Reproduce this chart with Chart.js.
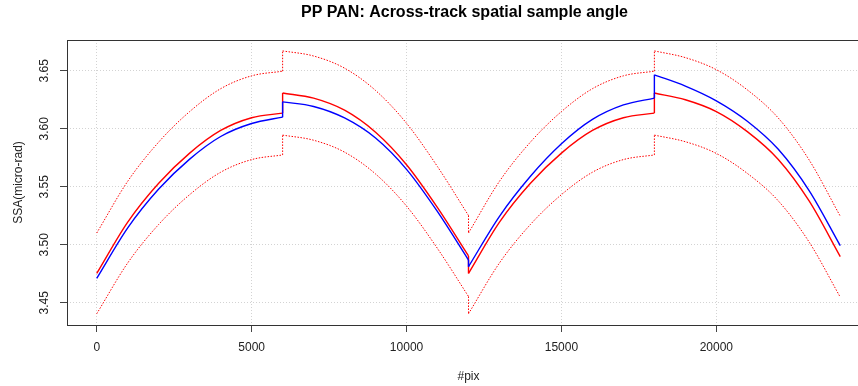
<!DOCTYPE html>
<html><head><meta charset="utf-8">
<script src="https://cdn.jsdelivr.net/npm/chart.js@4/dist/chart.umd.min.js"></script>
<style>html,body{margin:0;padding:0;overflow:hidden;background:#fff;} #wrap{width:872px;height:386px;}</style>
</head><body><div id="wrap"><canvas id="c" width="872" height="386"></canvas></div>
<script>
const titleText = 'PP PAN: Across-track spatial sample angle';
const xTitle = '#pix';
const yTitle = 'SSA(micro-rad)';
const xTicks = [0, 5000, 10000, 15000, 20000];
const yTicks = [3.45, 3.50, 3.55, 3.60, 3.65];
const yTickLabels = ['3.45', '3.50', '3.55', '3.60', '3.65'];

const pix = [0,1000,2000,3000,4000,5000,6000,
             6000,7000,8000,9000,10000,11000,12000,
             12000,13000,14000,15000,16000,17000,18000,
             18000,19000,20000,21000,22000,23000,24000];

const ssaRed = [3.4753,3.5195,3.5530,3.5790,3.5985,3.6095,3.6135,
                3.6308,3.6264,3.6160,3.5970,3.5690,3.5320,3.4903,
                3.4753,3.5195,3.5530,3.5790,3.5985,3.6095,3.6135,
                3.6308,3.6250,3.6148,3.5975,3.5735,3.5375,3.4897];

const ssaBlue = [3.4710,3.5145,3.5480,3.5738,3.5933,3.6045,3.6100,
                 3.6232,3.6192,3.6093,3.5920,3.5650,3.5285,3.4868,
                 3.4811,3.5245,3.5590,3.5870,3.6080,3.6205,3.6264,
                 3.6465,3.6368,3.6241,3.6065,3.5823,3.5465,3.4992];

const ssaUpper = [3.5101,3.5547,3.5885,3.6148,3.6345,3.6456,3.6496,
                  3.6671,3.6627,3.6522,3.6330,3.6047,3.5673,3.5252,
                  3.5101,3.5547,3.5885,3.6148,3.6345,3.6456,3.6496,
                  3.6671,3.6613,3.6509,3.6335,3.6092,3.5729,3.5246];

const ssaLower = [3.4405,3.4843,3.5175,3.5432,3.5625,3.5734,3.5774,
                  3.5945,3.5901,3.5798,3.5610,3.5333,3.4967,3.4554,
                  3.4405,3.4843,3.5175,3.5432,3.5625,3.5734,3.5774,
                  3.5945,3.5888,3.5787,3.5615,3.5378,3.5021,3.4548];

const FONT = '"Liberation Sans", Arial, Helvetica, sans-serif';

// smooth pieces between detector joins (gap where x repeats)
function pieces(arr) {
  const out = [];
  pix.forEach((x, i) => {
    if (i > 0 && x === pix[i - 1]) out.push({x: x, y: null});
    out.push({x: x, y: arr[i]});
  });
  return out;
}
// vertical steps at detector joins
function steps(arr) {
  const out = [];
  pix.forEach((x, i) => {
    if (i > 0 && x === pix[i - 1]) {
      out.push({x: pix[i - 1], y: arr[i - 1]}, {x: x, y: arr[i]}, {x: x, y: null});
    }
  });
  return out;
}

const decor = {
  id: 'decor',
  afterDraw(chart) {
    const {ctx, chartArea: a, scales: {y}} = chart;
    ctx.save();
    ctx.strokeStyle = '#333';
    ctx.lineWidth = 1;
    ctx.setLineDash([]);
    ctx.strokeRect(Math.round(a.left) + 0.5, Math.round(a.top) + 0.5,
                   Math.round(a.right - a.left), Math.round(a.bottom - a.top));
    ctx.fillStyle = '#000';
    ctx.font = 'bold 16px ' + FONT;
    ctx.textAlign = 'center';
    ctx.textBaseline = 'middle';
    ctx.fillText(titleText, (a.left + a.right) / 2 - 4, 13);
    ctx.font = '12px ' + FONT;
    ctx.fillStyle = '#222';
    yTicks.forEach((v, i) => {
      const py = y.getPixelForValue(v);
      ctx.save();
      ctx.translate(45, py);
      ctx.rotate(-Math.PI / 2);
      ctx.fillText(yTickLabels[i], 0, 0);
      ctx.restore();
    });
    ctx.restore();
  }
};

const gridCommon = {color: '#d3d3d3', lineWidth: 1, tickLength: 7, tickColor: '#444', tickBorderDash: [], tickWidth: 1};
const smooth = {pointRadius: 0, fill: false, cubicInterpolationMode: 'monotone', spanGaps: false};
const straight = {pointRadius: 0, fill: false, tension: 0, spanGaps: false};

new Chart(document.getElementById('c').getContext('2d'), {
  type: 'line',
  data: {
    datasets: [
      Object.assign({label: 'blue', data: pieces(ssaBlue), borderColor: '#0000ff', borderWidth: 1.4}, smooth),
      Object.assign({label: 'blue steps', data: steps(ssaBlue), borderColor: '#0000ff', borderWidth: 1.4}, straight),
      Object.assign({label: 'red', data: pieces(ssaRed), borderColor: '#ff0000', borderWidth: 1.4}, smooth),
      Object.assign({label: 'red steps', data: steps(ssaRed), borderColor: '#ff0000', borderWidth: 1.4}, straight),
      Object.assign({label: 'upper', data: pieces(ssaUpper), borderColor: '#ff0000', borderWidth: 1, borderDash: [1.5, 1.5]}, smooth),
      Object.assign({label: 'upper steps', data: steps(ssaUpper), borderColor: '#ff0000', borderWidth: 1, borderDash: [1.5, 1.5]}, straight),
      Object.assign({label: 'lower', data: pieces(ssaLower), borderColor: '#ff0000', borderWidth: 1, borderDash: [1.5, 1.5]}, smooth),
      Object.assign({label: 'lower steps', data: steps(ssaLower), borderColor: '#ff0000', borderWidth: 1, borderDash: [1.5, 1.5]}, straight)
    ]
  },
  options: {
    responsive: false,
    animation: false,
    layout: {padding: {top: 40, right: 2, left: 0, bottom: 0}},
    plugins: {legend: {display: false}, tooltip: {enabled: false}, title: {display: false}},
    scales: {
      x: {
        type: 'linear', min: -960, max: 24960,
        afterBuildTicks: s => { s.ticks = xTicks.map(v => ({value: v})); },
        afterFit: s => { s.height = 61; },
        ticks: {padding: 8, color: '#222', font: {family: FONT, size: 12}, maxRotation: 0, autoSkip: false, callback: v => String(v)},
        grid: gridCommon,
        border: {display: false, dash: [1, 2]},
        title: {display: true, text: xTitle, color: '#222', font: {family: FONT, size: 12}, padding: {top: 0, bottom: 2}}
      },
      y: {
        type: 'linear', min: 3.4308, max: 3.6765,
        afterBuildTicks: s => { s.ticks = yTicks.map(v => ({value: v})); },
        afterFit: s => { s.width = 67; },
        ticks: {display: false},
        grid: gridCommon,
        border: {display: false, dash: [1, 2]},
        title: {display: true, text: yTitle, color: '#222', font: {family: FONT, size: 12}, padding: {top: 11.5, bottom: 0}}
      }
    }
  },
  plugins: [decor]
});
</script>
</body></html>
